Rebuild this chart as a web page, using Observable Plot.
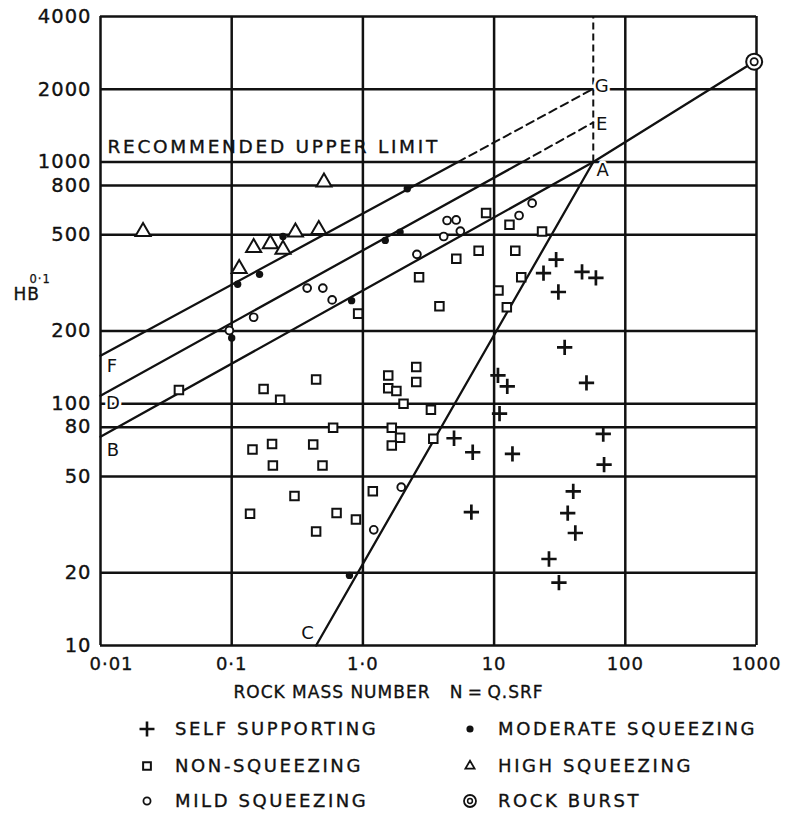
<!DOCTYPE html>
<html><head><meta charset="utf-8">
<script src="https://cdn.jsdelivr.net/npm/d3@7"></script>
<script src="https://cdn.jsdelivr.net/npm/@observablehq/plot@0.6"></script>
<style>
body{margin:0;background:#fff;}
#wrap{position:relative;width:790px;height:816px;font-family:"DejaVu Sans",sans-serif;color:#111;background:#fff;}
#chart svg text{letter-spacing:1px;}
.leg{position:absolute;font-size:18px;letter-spacing:2.6px;line-height:20px;white-space:nowrap;-webkit-text-stroke:0.35px #111;}
.icon{position:absolute;}
</style></head><body><div id="wrap"><div id="chart"></div></div>
<script>
// ---- axes ----
const xTicks = [0.01, 0.1, 1, 10, 100, 1000];
const xTickLabels = ["0·01", "0·1", "1·0", "10", "100", "1000"];
const yTicks = [10, 20, 50, 80, 100, 200, 500, 800, 1000, 2000, 4000];
const yTickLabels = ["10", "20", "50", "80", "100", "200", "500", "800", "1000", "2000", "4000"];
const xTitle = "ROCK MASS NUMBER   N\u2009=\u2009Q.SRF";
const yTitle = "HB";
const yTitleSup = "0·1";
const upperLimitLabel = "RECOMMENDED UPPER LIMIT";

// ---- data points [N, HB^0.1] ----
const selfSupporting = [[29.7,395],[23.8,347],[46.8,351],[59.7,332],[30.9,290],[34.5,171],[50.6,122],[67.9,75],[68.9,56],[40.1,43.4],[10.7,131],[12.6,118],[11,91],[4.95,72],[6.87,63],[13.8,62],[6.71,35.6],[36.4,35.3],[41.6,29.2],[26.2,22.8],[31.2,18.2]];
const nonSqueezing = [[0.92,236],[8.69,615],[13.1,550],[23.2,516],[5.15,398],[7.62,430],[14.5,430],[2.68,334],[16.1,334],[10.8,294],[3.83,253],[12.5,251],[0.0396,114],[0.175,115],[0.234,104],[0.44,126],[0.593,79.5],[0.144,64.7],[0.203,68.2],[0.418,67.9],[0.206,55.6],[0.492,55.6],[0.301,41.5],[0.138,35.1],[0.44,29.6],[0.63,35.3],[0.885,33.2],[1.19,43.5],[1.56,131],[1.56,116],[1.8,113],[2.55,142],[2.55,123],[2.04,100],[3.3,94.4],[1.66,79.5],[1.92,72.3],[1.66,67.2],[3.44,71.6]];
const mildSqueezing = [[0.376,301],[0.495,301],[0.583,269],[0.147,228],[0.096,201],[4.38,573],[5.14,576],[5.53,518],[4.13,492],[15.5,601],[19.5,676],[2.58,415],[1.21,30.1],[1.96,45.2]];
const moderateSqueezing = [[0.111,312],[0.163,343],[0.246,492],[0.82,267],[0.1,187],[2.18,775],[1.92,513],[1.48,474],[0.79,19.5]];
const highSqueezing = [[0.505,826],[0.0211,515],[0.147,442],[0.197,459],[0.246,435],[0.306,513],[0.461,525],[0.114,362]];
const rockBurst = [[960,2600]];

// ---- guide lines [N, HB^0.1] ----
const lineBA = [[0.01,73],[57,1000],[960,2600]];
const lineF = [[0.01,158],[5.3,1000]];
const lineFG = [[5.3,1000],[57,2010]];
const lineD = [[0.01,108],[16.4,1000]];
const lineDE = [[16.4,1000],[57,1458]];
const lineCA = [[0.44,10],[57,1000]];
const limitN = [57];
const limitRange = [1000, 4000];
const pointLabels = [["F",0.01,158],["D",0.01,108],["B",0.01,73],["C",0.44,10],["G",57,2010],["E",57,1458],["A",57,1000]];

// ---- legend ----
const legendNames = ["SELF SUPPORTING","NON-SQUEEZING","MILD SQUEEZING","MODERATE SQUEEZING","HIGH SQUEEZING","ROCK BURST"];

const ink = "#111";
const labelOffsets = {F:[12,10],D:[13,8],B:[13,13],C:[-8,-12],G:[9,-3],E:[9,2],A:[10,8]};
const xLabelShift = {"0.01": 11};
const X = d => d[0], Y = d => d[1];

const plot = Plot.plot({
  width: 790, height: 712,
  marginLeft: 100, marginRight: 34, marginTop: 16, marginBottom: 67,
  x: {type: "log", domain: [0.01, 1000], axis: null},
  y: {type: "log", domain: [10, 4000], axis: null},
  style: {fontFamily: "DejaVu Sans, sans-serif", fontSize: "18px", color: ink, background: "white"},
  marks: [
    Plot.ruleX(xTicks, {stroke: ink, strokeWidth: 2.5}),
    Plot.ruleY(yTicks, {stroke: ink, strokeWidth: 2.5}),
    // tick labels
    ...xTicks.map((t, i) => Plot.text([t], {x: d => d, frameAnchor: "bottom", text: () => xTickLabels[i], lineAnchor: "top", dy: 12, dx: xLabelShift[String(t)] || 0, fontSize: 18, fill: ink, stroke: ink, strokeWidth: 0.35})),
    Plot.text(yTicks, {y: d => d, frameAnchor: "left", text: (d, i) => yTickLabels[i], textAnchor: "end", dx: -9, fontSize: 19.5, fill: ink, stroke: ink, strokeWidth: 0.35}),
    Plot.ruleX(limitN, {y1: limitRange[0], y2: limitRange[1], stroke: ink, strokeWidth: 2, strokeDasharray: "7,4"}),
    Plot.line(lineBA, {x: X, y: Y, stroke: ink, strokeWidth: 2.3}),
    Plot.line(lineF, {x: X, y: Y, stroke: ink, strokeWidth: 2.3}),
    Plot.line(lineD, {x: X, y: Y, stroke: ink, strokeWidth: 2.3}),
    Plot.line(lineCA, {x: X, y: Y, stroke: ink, strokeWidth: 2.3}),
    Plot.line(lineFG, {x: X, y: Y, stroke: ink, strokeWidth: 2, strokeDasharray: "8,5"}),
    Plot.line(lineDE, {x: X, y: Y, stroke: ink, strokeWidth: 2, strokeDasharray: "8,5"}),
    Plot.dot(nonSqueezing, {x: X, y: Y, symbol: "square", r: 4.8, fill: "white", stroke: ink, strokeWidth: 2}),
    Plot.dot(mildSqueezing, {x: X, y: Y, symbol: "circle", r: 3.9, fill: "white", stroke: ink, strokeWidth: 1.9}),
    Plot.dot(highSqueezing, {x: X, y: Y, symbol: "triangle", r: 5.6, fill: "white", stroke: ink, strokeWidth: 2}),
    Plot.dot(selfSupporting, {x: X, y: Y, symbol: "plus", r: 5, stroke: ink, strokeWidth: 2.7}),
    Plot.dot(moderateSqueezing, {x: X, y: Y, symbol: "circle", r: 3.7, fill: ink}),
    Plot.dot(rockBurst, {x: X, y: Y, r: 8, fill: "white", stroke: ink, strokeWidth: 2}),
    Plot.dot(rockBurst, {x: X, y: Y, r: 3.6, fill: "none", stroke: ink, strokeWidth: 1.8}),
    ...pointLabels.map(l => Plot.text([l], {x: d => d[1], y: d => d[2], text: d => d[0], dx: labelOffsets[l[0]][0], dy: labelOffsets[l[0]][1], fontSize: 18, fill: ink, stroke: "white", strokeWidth: 5})),
    Plot.text([upperLimitLabel], {x: () => 0.01, y: () => 1000, text: d => d, textAnchor: "start", dx: 7, dy: -15, fontSize: 18.5, fill: ink, stroke: ink, strokeWidth: 0.35}),
    Plot.text([yTitle], {frameAnchor: "left", y: () => 282, text: d => d, textAnchor: "start", dx: -87, fontSize: 17, fill: ink, stroke: ink, strokeWidth: 0.35}),
    Plot.text([yTitleSup], {frameAnchor: "left", y: () => 282, text: d => d, textAnchor: "start", dx: -71, dy: -16, fontSize: 11.5, fill: ink, stroke: ink, strokeWidth: 0.25}),
    Plot.text([xTitle], {frameAnchor: "bottom-left", text: d => d, textAnchor: "start", dx: 133, dy: 52, fontSize: 17, fill: ink, stroke: ink, strokeWidth: 0.35})
  ]
});
// wider letter spacing for the upper-limit caption
d3.select(plot).selectAll("text").filter(function() { return this.textContent === upperLimitLabel; }).style("letter-spacing", "2.7px");
document.getElementById("chart").appendChild(plot);

// legend (HTML below the SVG)
const wrap = document.getElementById("wrap");
const legendSymbols = [
  {type: d3.symbolPlus, size: 75, fill: "none", sw: 2.6},
  {type: d3.symbolSquare, size: 60, fill: "white", sw: 2},
  {type: d3.symbolCircle, size: 40, fill: "white", sw: 1.8},
  {type: d3.symbolCircle, size: 40, fill: ink, sw: 0},
  {type: d3.symbolTriangle2, size: 60, fill: "white", sw: 1.8},
  {type: "burst"}
];
const colLeft = [147, 470];
const rowTop = [729, 766, 801];
legendNames.forEach((name, i) => {
  const col = Math.floor(i / 3), row = i % 3;
  const cx = colLeft[col], cy = rowTop[row];
  const s = legendSymbols[i];
  const icon = document.createElement("div");
  icon.className = "icon";
  icon.style.left = (cx - 10) + "px";
  icon.style.top = (cy - 10) + "px";
  let inner;
  if (s.type === "burst") {
    inner = `<circle cx="10" cy="10" r="6" fill="white" stroke="${ink}" stroke-width="1.8"/><circle cx="10" cy="10" r="2.4" fill="none" stroke="${ink}" stroke-width="1.5"/>`;
  } else {
    const p = d3.symbol(s.type, s.size)();
    inner = `<path transform="translate(10,10)" d="${p}" fill="${s.fill}" stroke="${ink}" stroke-width="${s.sw}"/>`;
  }
  icon.innerHTML = `<svg width="20" height="20">${inner}</svg>`;
  wrap.appendChild(icon);
  const t = document.createElement("div");
  t.className = "leg";
  t.textContent = name;
  t.style.left = (cx + 28) + "px";
  t.style.top = (cy - 10) + "px";
  wrap.appendChild(t);
});
</script></body></html>
